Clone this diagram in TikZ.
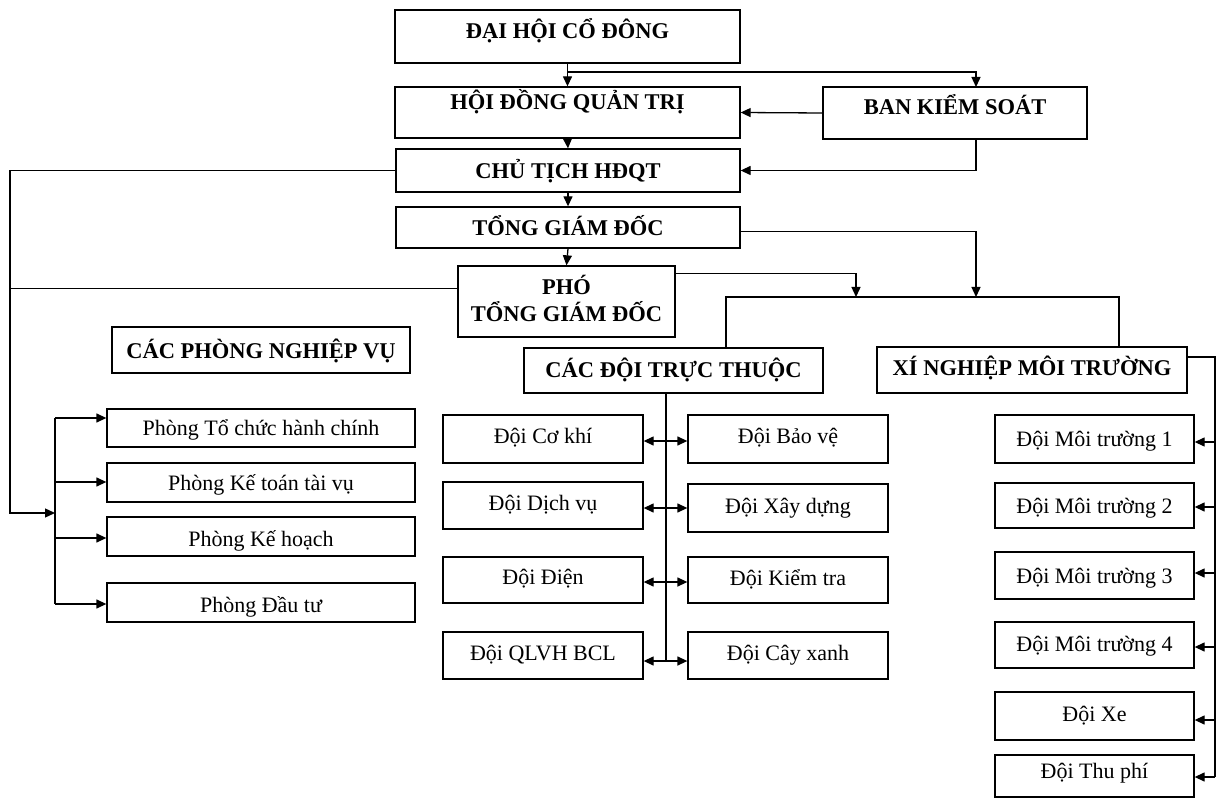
\documentclass[tikz,border=0pt]{standalone}
\usepackage{fontspec}
\setmainfont{Liberation Serif}
\usetikzlibrary{arrows.meta,calc}
\begin{document}
\begin{tikzpicture}[x=1pt,y=-1pt,
  box/.style={draw=black, line width=1.3pt, inner sep=0pt, fill=white},
  lab/.style={anchor=base, inner sep=0pt, font=\fontsize{22}{26}\selectfont},
  blab/.style={anchor=base, inner sep=0pt, font=\fontsize{22.5}{26}\selectfont\bfseries},
  arr/.style={-{Triangle[length=10pt,width=9pt]}, line width=1.3pt},
  ln/.style={line width=1.3pt}]
\fill[white] (0,0) rectangle (1217,799);
\useasboundingbox (0,0) rectangle (1217,799);

% ---------- top boxes ----------
\node[box, minimum width=345pt, minimum height=53pt] (dhcd) at (567.5,36.5) {};
\node[blab] (dhcdT) at (567.5,39) {ĐẠI HỘI CỔ ĐÔNG};
\node[box, minimum width=345pt, minimum height=51pt] (hdqt) at (567.5,112.5) {};
\node[blab] (hdqtT) at (567.5,110) {HỘI ĐỒNG QUẢN TRỊ};
\node[box, minimum width=264pt, minimum height=52pt] (bks) at (955,113) {};
\node[blab] (bksT) at (955,115) {BAN KIỂM SOÁT};
\node[box, minimum width=344pt, minimum height=43pt] (ct) at (568,170.5) {};
\node[blab] (ctT) at (568,179) {CHỦ TỊCH HĐQT};
\node[box, minimum width=344pt, minimum height=41pt] (tgd) at (568,227.5) {};
\node[blab] (tgdT) at (568,236) {TỔNG GIÁM ĐỐC};
\node[box, minimum width=217pt, minimum height=71pt] (ptgd) at (566.5,301.5) {};
\node[blab] (ptgdT1) at (566.5,295) {PHÓ};
\node[blab] (ptgdT2) at (566.5,321) {TỔNG GIÁM ĐỐC};

% ---------- group headers ----------
\node[box, minimum width=298pt, minimum height=46pt] (cpnv) at (261,350) {};
\node[blab] (cpnvT) at (261,358) {CÁC PHÒNG NGHIỆP VỤ};
\node[box, minimum width=299pt, minimum height=45pt] (cdtt) at (673.5,370.5) {};
\node[blab] (cdttT) at (673.5,377) {CÁC ĐỘI TRỰC THUỘC};
\node[box, minimum width=310pt, minimum height=46pt] (xnmt) at (1032,370) {};
\node[blab] (xnmtT) at (1032,375) {XÍ NGHIỆP MÔI TRƯỜNG};

% ---------- phong ----------
\node[box, minimum width=308pt, minimum height=38pt] (p1) at (261,428) {};
\node[lab] (p1T) at (261,435) {Phòng Tổ chức hành chính};
\node[box, minimum width=308pt, minimum height=39pt] (p2) at (261,482.5) {};
\node[lab] (p2T) at (261,490) {Phòng Kế toán tài vụ};
\node[box, minimum width=308pt, minimum height=39pt] (p3) at (261,536.5) {};
\node[lab] (p3T) at (261,546) {Phòng Kế hoạch};
\node[box, minimum width=308pt, minimum height=39pt] (p4) at (261,602.5) {};
\node[lab] (p4T) at (261,612) {Phòng Đầu tư};

% ---------- doi truc thuoc ----------
\node[box, minimum width=200pt, minimum height=48pt] (dck) at (543,439) {};
\node[lab] (dckT) at (543,443) {Đội Cơ khí};
\node[box, minimum width=200pt, minimum height=47pt] (ddv) at (543,505.5) {};
\node[lab] (ddvT) at (543,510) {Đội Dịch vụ};
\node[box, minimum width=200pt, minimum height=46pt] (ddn) at (543,580) {};
\node[lab] (ddnT) at (543,584) {Đội Điện};
\node[box, minimum width=200pt, minimum height=47pt] (dql) at (543,655.5) {};
\node[lab] (dqlT) at (543,660) {Đội QLVH BCL};
\node[box, minimum width=200pt, minimum height=48pt] (dbv) at (788,439) {};
\node[lab] (dbvT) at (788,443) {Đội Bảo vệ};
\node[box, minimum width=200pt, minimum height=48pt] (dxd) at (788,508) {};
\node[lab] (dxdT) at (788,513) {Đội Xây dựng};
\node[box, minimum width=200pt, minimum height=46pt] (dkt) at (788,580) {};
\node[lab] (dktT) at (788,585) {Đội Kiểm tra};
\node[box, minimum width=200pt, minimum height=47pt] (dcx) at (788,655.5) {};
\node[lab] (dcxT) at (788,660) {Đội Cây xanh};

% ---------- xi nghiep ----------
\node[box, minimum width=199pt, minimum height=48pt] (m1) at (1094.5,439) {};
\node[lab] (m1T) at (1094.5,446) {Đội Môi trường 1};
\node[box, minimum width=199pt, minimum height=45pt] (m2) at (1094.5,505.5) {};
\node[lab] (m2T) at (1094.5,513) {Đội Môi trường 2};
\node[box, minimum width=199pt, minimum height=47pt] (m3) at (1094.5,575.5) {};
\node[lab] (m3T) at (1094.5,583) {Đội Môi trường 3};
\node[box, minimum width=199pt, minimum height=46pt] (m4) at (1094.5,645) {};
\node[lab] (m4T) at (1094.5,651) {Đội Môi trường 4};
\node[box, minimum width=199pt, minimum height=48pt] (m5) at (1094.5,716) {};
\node[lab] (m5T) at (1094.5,721) {Đội Xe};
\node[box, minimum width=199pt, minimum height=42pt] (m6) at (1094.5,776) {};
\node[lab] (m6T) at (1094.5,778) {Đội Thu phí};

% ---------- coordinates ----------
\coordinate (j1) at (568,72);
\coordinate (bksIn) at (976,87);
\coordinate (bksOut) at (976,139);
\coordinate (busM) at (856,297);
\coordinate (busR) at (976,297);
\coordinate (busB) at (1119,297);
\coordinate (sp) at (10,513);
\coordinate (pb) at (55,513);
\coordinate (a1) at (55,418);
\coordinate (a2) at (55,482);
\coordinate (a3) at (55,538);
\coordinate (a4) at (55,604);
\coordinate (mtop) at (666,393);
\coordinate (c1) at (666,441);
\coordinate (c2) at (666,508);
\coordinate (c3) at (666,582);
\coordinate (c4) at (666,661);
\coordinate (rtop) at (1215,357);
\coordinate (r1) at (1215,442);
\coordinate (r2) at (1215,507);
\coordinate (r3) at (1215,573);
\coordinate (r4) at (1215,647);
\coordinate (r5) at (1215,720);
\coordinate (r6) at (1215,777);

% ---------- connectors: top ----------
\draw[arr] (dhcd.south) -- (hdqt.north);
\draw[arr] (j1) -| (bksIn);
\draw[arr] (bks.west) -- (hdqt.east);
\draw[arr] (bksOut) |- (ct.east);
\draw[arr] (hdqt.south) -- (ct.north);
\draw[arr] (ct.south) -- (tgd.north);
\draw[arr] (tgd.south) -- (ptgd.north);
\draw[arr] ([yshift=-4pt]tgd.east) -| (busR);
\draw[arr] ([yshift=-8pt]ptgd.north east) -| (busM);
\draw[ln] ([xshift=52.5pt]cdtt.north) |- (busB) -- ([xshift=87pt]xnmt.north);

% ---------- left spine ----------
\draw[arr] (ct.west) -| (sp) -- (pb);
\draw[ln] ([yshift=13pt]ptgd.west) -- ([yshift=13pt]ptgd.west -| sp);
\draw[ln] (a1) -- (a4);
\draw[arr] (a1) -- (a1 -| p1.west);
\draw[arr] (a2) -- (a2 -| p2.west);
\draw[arr] (a3) -- (a3 -| p3.west);
\draw[arr] (a4) -- (a4 -| p4.west);

% ---------- middle ----------
\draw[ln] (mtop) -- (c4);
\draw[arr] (c1) -- (c1 -| dck.east);
\draw[arr] (c1) -- (c1 -| dbv.west);
\draw[arr] (c2) -- (c2 -| ddv.east);
\draw[arr] (c2) -- (c2 -| dxd.west);
\draw[arr] (c3) -- (c3 -| ddn.east);
\draw[arr] (c3) -- (c3 -| dkt.west);
\draw[arr] (c4) -- (c4 -| dql.east);
\draw[arr] (c4) -- (c4 -| dcx.west);

% ---------- right ----------
\draw[ln] (rtop -| xnmt.east) -- (rtop) -- (r6);
\draw[arr] (r1) -- (r1 -| m1.east);
\draw[arr] (r2) -- (r2 -| m2.east);
\draw[arr] (r3) -- (r3 -| m3.east);
\draw[arr] (r4) -- (r4 -| m4.east);
\draw[arr] (r5) -- (r5 -| m5.east);
\draw[arr] (r6) -- (r6 -| m6.east);
\end{tikzpicture}
\end{document}
